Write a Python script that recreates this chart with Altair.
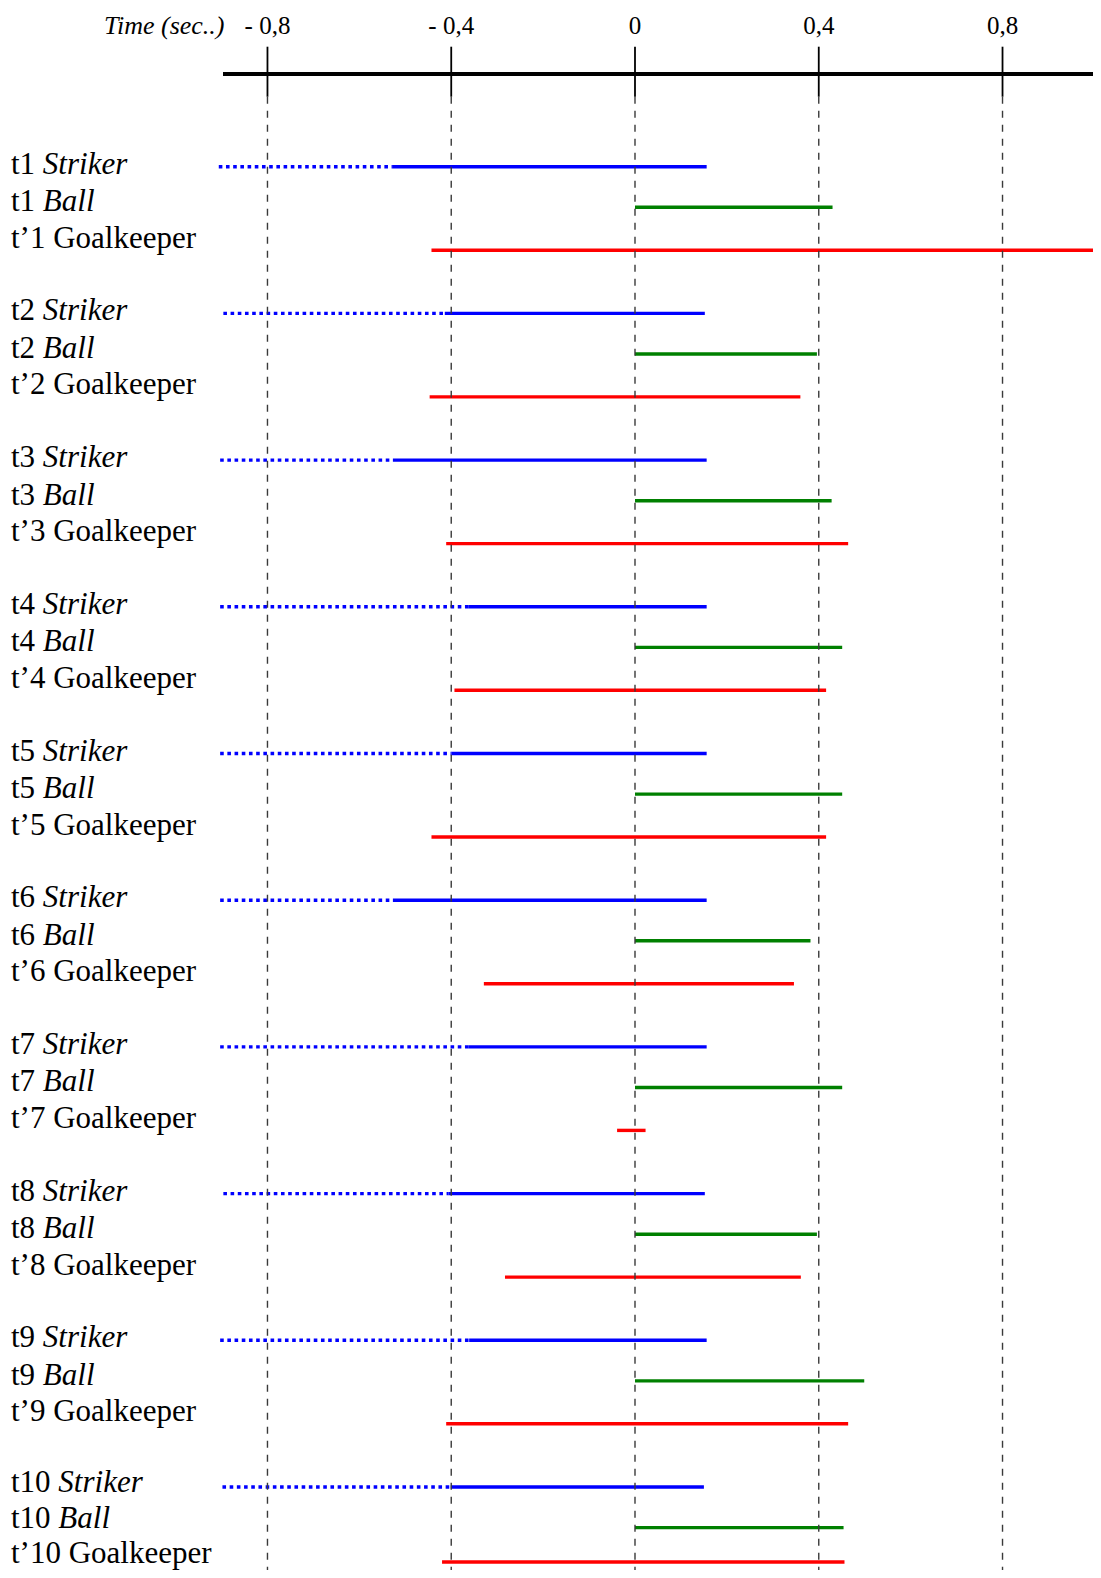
import altair as alt
import pandas as pd

# ---------------- data (seconds) ----------------
TRIALS = [1, 2, 3, 4, 5, 6, 7, 8, 9, 10]
STRIKER_START = [-0.906, -0.896, -0.903, -0.903, -0.903, -0.903, -0.903, -0.896, -0.903, -0.898]
STRIKER_SWITCH = [-0.527, -0.414, -0.527, -0.363, -0.399, -0.527, -0.363, -0.406, -0.361, -0.401]
STRIKER_END = [0.156, 0.152, 0.156, 0.156, 0.156, 0.156, 0.156, 0.152, 0.156, 0.150]
BALL_START = [0.0, 0.0, 0.0, 0.0, 0.0, 0.0, 0.0, 0.0, 0.0, 0.0]
BALL_END = [0.430, 0.396, 0.428, 0.451, 0.451, 0.382, 0.451, 0.396, 0.499, 0.454]
GK_START = [-0.443, -0.447, -0.411, -0.393, -0.443, -0.329, -0.039, -0.283, -0.411, -0.420]
GK_END = [1.02, 0.360, 0.464, 0.416, 0.416, 0.346, 0.023, 0.361, 0.464, 0.456]
TICKS = [-0.8, -0.4, 0.0, 0.4, 0.8]
TICK_LABELS = ["- 0,8", "- 0,4", "0", "0,4", "0,8"]
AXIS_TITLE = "Time (sec..)"

# ---------------- layout ----------------
W, H = 1085, 1562
X_DOMAIN = [-1.3648, 0.99695]
FIRST_ROW_PX = 158.7
GROUP_PX = 146.7
Y_DOMAIN = [1 - FIRST_ROW_PX / GROUP_PX, 1 + (H - FIRST_ROW_PX) / GROUP_PX]
LINE_OFF = {"Striker": 0.0, "Ball": 40.6, "Goalkeeper": 83.5}
LAST_GK_OFF = 75.0
LABEL_OFF = {"Striker": 7.0, "Ball": 44.5, "Goalkeeper": 81.0}
LAST_LABEL_OFF = {"Striker": 5.0, "Ball": 40.5, "Goalkeeper": 76.0}
FONT = "Liberation Serif"
FS = 31
LW = 3.4
LABEL_X = 3
CHAR_W = {"t": 0.278, " ": 0.25, "’": 0.333}
for d in "0123456789":
    CHAR_W[d] = 0.5


def text_w(s):
    return sum(CHAR_W.get(c, 0.5) for c in s) * FS


def ypos(trial, px):
    return trial + px / GROUP_PX


xs = alt.Scale(domain=X_DOMAIN, nice=False, zero=False)
ys = alt.Scale(domain=Y_DOMAIN, nice=False, zero=False, reverse=True)

rows = []
for i, t in enumerate(TRIALS):
    gk_off = LAST_GK_OFF if t == TRIALS[-1] else LINE_OFF["Goalkeeper"]
    rows.append(dict(kind="dot", x0=STRIKER_START[i], x1=STRIKER_SWITCH[i], y=ypos(t, LINE_OFF["Striker"])))
    rows.append(dict(kind="striker", x0=STRIKER_SWITCH[i], x1=STRIKER_END[i], y=ypos(t, LINE_OFF["Striker"])))
    rows.append(dict(kind="ball", x0=BALL_START[i], x1=BALL_END[i], y=ypos(t, LINE_OFF["Ball"])))
    rows.append(dict(kind="gk", x0=GK_START[i], x1=GK_END[i], y=ypos(t, gk_off)))
lines = pd.DataFrame(rows)

lab_rows = []
for t in TRIALS:
    off = LAST_LABEL_OFF if t == TRIALS[-1] else LABEL_OFF
    pre = f"t{t}"
    wx = LABEL_X + text_w(pre + " ")
    lab_rows.append(dict(pre=pre, word="Striker", wx=wx, y=ypos(t, off["Striker"])))
    lab_rows.append(dict(pre=pre, word="Ball", wx=wx, y=ypos(t, off["Ball"])))
    lab_rows.append(dict(pre=f"t’{t} Goalkeeper", word="", wx=wx, y=ypos(t, off["Goalkeeper"])))
labels = pd.DataFrame(lab_rows)

ticks = pd.DataFrame({"x": TICKS, "lab": TICK_LABELS})


def seg(kind, color, dash=None):
    kw = dict(color=color, strokeWidth=LW, strokeCap="butt")
    if dash:
        kw["strokeDash"] = dash
    return alt.Chart(lines).transform_filter(alt.datum.kind == kind).mark_rule(**kw).encode(
        x=alt.X("x0:Q", scale=xs, axis=None),
        x2="x1:Q",
        y=alt.Y("y:Q", scale=ys, axis=None),
    )


dotted = seg("dot", "#0000FF", [3.6, 3.6])
striker = seg("striker", "#0000FF")
ball = seg("ball", "#008000")
gk = seg("gk", "#FF0000")

grid = alt.Chart(ticks).mark_rule(color="#3a3a3a", strokeWidth=1.4, strokeDash=[7, 7]).encode(
    x=alt.X("x:Q", scale=xs, axis=None), y=alt.value(88.7), y2=alt.value(H)
)
tick_marks = alt.Chart(ticks).mark_rule(color="black", strokeWidth=1.8).encode(
    x=alt.X("x:Q", scale=xs, axis=None), y=alt.value(38.7), y2=alt.value(88.7)
)
axis_line = alt.Chart(ticks).mark_rule(color="black", strokeWidth=3.4).encode(
    x=alt.value(215), x2=alt.value(W), y=alt.value(66)
)
tick_text = alt.Chart(ticks).mark_text(
    font=FONT, fontSize=25, align="center", baseline="alphabetic", color="black"
).encode(x=alt.X("x:Q", scale=xs, axis=None), y=alt.value(25.5), text="lab:N")
title = alt.Chart(ticks).transform_filter(alt.datum.x == 0).mark_text(
    font=FONT, fontSize=26, fontStyle="italic", align="right", baseline="alphabetic", color="black"
).encode(x=alt.value(216.5), y=alt.value(26), text=alt.value(AXIS_TITLE))

pre_text = alt.Chart(labels).mark_text(
    font=FONT, fontSize=FS, align="left", baseline="alphabetic", color="black"
).encode(x=alt.value(LABEL_X), y=alt.Y("y:Q", scale=ys, axis=None), text="pre:N")
word_text = alt.Chart(labels).transform_filter(alt.datum.word != "").mark_text(
    font=FONT, fontSize=FS, fontStyle="italic", align="left", baseline="alphabetic", color="black"
).encode(x=alt.X("wx:Q", scale=None, axis=None), y=alt.Y("y:Q", scale=ys, axis=None), text="word:N")

chart = alt.layer(
    dotted, striker, ball, gk, grid, tick_marks, axis_line, tick_text, title, pre_text, word_text
).properties(
    width=W, height=H, autosize=alt.AutoSizeParams(type="none"), padding=0, background="white"
).configure_view(stroke=None)

chart.save("out.html", embed_options={"renderer": "svg", "actions": False})
